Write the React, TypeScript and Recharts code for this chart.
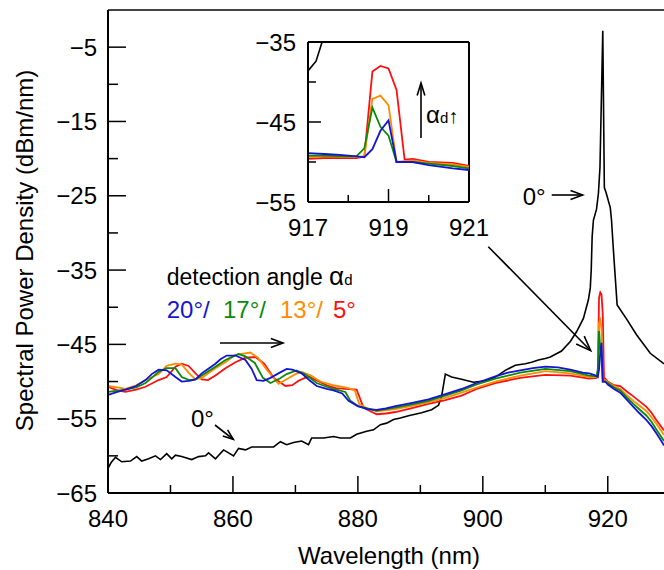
import React from 'react';
import { LineChart, Line, XAxis, YAxis, ReferenceLine } from 'recharts';

const FONT = "'Liberation Sans', Arial, sans-serif";

// ---------- main chart data (wavelength nm, dBm/nm) ----------
const xTicksMain = [840, 850, 860, 870, 880, 890, 900, 910, 920];
const yTicksMain = [-65, -60, -55, -50, -45, -40, -35, -30, -25, -20, -15, -10, -5];
const xTicksInset = [917, 918, 919, 920, 921];
const yTicksInset = [-55, -50, -45, -40, -35];

const black0: [number, number][] = [
  [840, -61.7], [840.5, -60.9], [841.2, -60.2], [842.2, -60.8], [843.6, -60.7], [844.6, -60.1], [845.4, -60.7],
  [846.5, -60.4], [847.6, -60.0], [848.4, -60.5], [849.4, -59.7], [850.2, -60.4], [850.8, -59.9], [851.8, -60.1],
  [853.4, -60.5], [854.5, -60.1], [855.6, -60.0], [856.1, -59.6], [857.2, -60.4], [858.5, -59.2], [859.3, -59.6],
  [860.1, -60.0], [860.9, -59.0], [862, -59.2], [863, -58.8], [864.9, -58.8], [866.5, -58.8], [867.6, -58.1],
  [868.6, -58.5], [869.7, -58.2], [871, -58.0], [872.1, -58.5], [872.6, -57.6], [874.5, -57.6], [876.1, -57.4],
  [877.2, -57.6], [878.8, -57.6], [879.8, -57.1], [881.4, -56.7], [882.5, -56.5], [883.6, -55.8], [884.6, -55.6],
  [885.7, -55.1], [886.8, -54.9], [888.1, -54.6], [890.2, -54.2], [891.8, -53.8], [892.9, -53.2], [893.4, -52.0],
  [894, -49.0], [895, -49.4], [896.6, -49.7], [898.5, -50.1], [900.4, -49.9], [902, -49.4], [903.6, -48.5],
  [905.2, -47.8], [906.8, -47.6], [907.8, -47.4], [908.9, -47.1], [910, -46.9], [910.8, -46.7], [912.6, -45.9],
  [914, -44.6], [915, -43.3], [916.1, -41.5], [916.9, -39.0], [917.2, -37.4], [917.35, -35.0], [917.5, -30.5],
  [917.7, -28.3], [918.2, -26.8], [918.5, -24.7], [918.75, -21.2], [919.2, -2.8], [919.45, -23.9], [919.7, -24.5],
  [920.4, -26.6], [920.6, -28.3], [920.9, -32.3], [921.5, -39.7], [923.1, -41.7], [924.6, -43.7], [926.8, -46.2],
  [928.8, -47.5], [929, -47.6],
];

const blue20: [number, number][] = [
  [840, -51.8], [841.5, -51.4], [842.8, -51.1], [844.5, -50.6], [846, -49.8], [847, -49.0], [848.1, -48.4],
  [849.4, -48.5], [850.8, -49.4], [851.8, -50.0], [853, -49.9], [854, -49.7], [855, -48.9], [856, -48.3],
  [857.2, -47.6], [858, -47.0], [859, -46.5], [860.4, -46.5], [862, -47.1], [863, -48.3], [863.8, -49.8],
  [864.9, -49.9], [866, -49.5], [867.5, -48.8], [868.6, -48.3], [869.5, -48.4], [871, -48.9], [872.2, -49.8],
  [873.4, -50.6], [875, -51.0], [876.1, -51.2], [877.5, -51.6], [878.5, -52.6], [880, -53.3], [881.5, -53.7],
  [883, -53.8], [884.5, -53.6], [886, -53.3], [888.5, -52.9], [891.3, -52.4], [894, -51.7], [896.6, -51.0],
  [899, -50.2], [902, -49.3], [904, -48.8], [906, -48.5], [908, -48.2], [910, -48.0], [912, -48.1], [914, -48.4],
  [916, -48.8], [917, -48.9], [917.8, -49.1], [918.2, -49.3], [918.4, -49.4], [918.6, -48.4], [918.8, -46.1],
  [919, -44.8], [919.2, -50.0], [919.6, -50.0], [920, -50.4], [921, -51.0], [922, -51.5], [923, -52.4],
  [924.1, -53.4], [925, -54.2], [926.2, -55.2], [927, -56.0], [927.8, -57.0], [928.5, -57.9], [929, -58.6],
];

const green17: [number, number][] = [
  [840, -51.4], [842.8, -51.1], [844.5, -50.8], [846, -50.2], [847, -49.5], [848.1, -48.7], [849.4, -48.2],
  [850.8, -48.2], [851.8, -49.4], [853, -49.8], [854, -49.7], [855, -49.2], [857.2, -48.0], [858.8, -47.1],
  [860.9, -46.3], [862, -46.6], [863.5, -47.5], [864.8, -49.5], [866, -50.2], [867.5, -49.6], [868.6, -49.0],
  [870.2, -48.5], [871.5, -49.0], [873.4, -50.2], [875, -50.7], [876.1, -51.0], [878, -51.4], [878.8, -52.6],
  [880, -53.3], [883, -53.9], [886, -53.5], [888.5, -53.1], [891.3, -52.6], [894, -51.9], [896.6, -51.2],
  [899, -50.4], [902, -49.6], [906, -48.8], [910, -48.3], [914, -48.6], [917, -49.2], [918.2, -49.3],
  [918.4, -48.3], [918.6, -43.2], [918.8, -45.6], [919, -46.7], [919.2, -50.0], [919.6, -50.0], [920, -50.2],
  [921, -50.8], [922, -51.2], [923, -52.1], [924.1, -53.0], [925, -53.7], [926.2, -54.6], [927, -55.4],
  [927.8, -56.5], [929, -58.0],
];

const orange13: [number, number][] = [
  [840, -50.6], [841.5, -50.8], [842.8, -51.0], [844.5, -50.5], [846, -49.8], [848.1, -49.0], [849.4, -47.9],
  [850.8, -47.6], [851.8, -47.7], [853, -48.9], [854, -49.7], [855, -49.5], [857.2, -48.2], [858.8, -47.4],
  [860.4, -46.4], [862.8, -46.1], [864, -46.8], [865.5, -48.5], [867.3, -50.3], [868.6, -49.7], [870, -49.0],
  [871, -48.7], [872.5, -49.2], [874, -50.0], [876.1, -50.5], [878.5, -50.9], [879.5, -51.2], [880.2, -53.0],
  [881.5, -53.6], [883, -54.0], [886, -53.7], [888.5, -53.3], [891.3, -52.8], [894, -52.2], [896.6, -51.5],
  [899, -50.8], [902, -50.0], [906, -49.2], [910, -48.6], [914, -48.9], [917, -49.4], [918.2, -49.4],
  [918.4, -49.3], [918.6, -42.1], [918.8, -41.7], [919, -42.9], [919.2, -50.0], [919.6, -49.8], [920, -50.1],
  [921, -50.6], [922, -51.0], [923, -51.8], [924.1, -52.6], [925, -53.2], [926.2, -54.0], [927, -54.8],
  [927.8, -55.7], [929, -57.2],
];

const red5: [number, number][] = [
  [840, -50.7], [841.5, -51.2], [842.8, -51.4], [844.5, -51.1], [846, -50.7], [848.1, -49.8], [849.4, -49.4],
  [850.8, -48.0], [851.8, -47.6], [852.9, -47.9], [854, -48.9], [855, -49.7], [856, -49.8], [857.2, -49.2],
  [858.8, -48.2], [860.4, -47.4], [862, -46.8], [863.6, -46.7], [865, -47.6], [866.5, -49.5], [868.4, -50.6],
  [869.5, -50.5], [870.5, -49.9], [872.1, -49.3], [873.5, -49.9], [875, -50.5], [876.5, -50.9], [878, -51.0],
  [879.8, -51.1], [880.9, -53.5], [882, -54.0], [883, -54.4], [884.5, -54.3], [886, -54.1], [888.5, -53.6],
  [891.3, -53.0], [894, -52.5], [896.6, -51.9], [899, -51.0], [902, -50.2], [906, -49.5], [910, -49.1],
  [914, -49.2], [917, -49.6], [918.2, -49.5], [918.4, -49.3], [918.6, -38.7], [918.8, -38.0], [919, -38.3],
  [919.2, -41.0], [919.4, -49.7], [919.6, -49.6], [920, -50.0], [921, -50.5], [922, -50.6], [923, -51.3],
  [924.1, -52.0], [925, -52.6], [926.2, -53.4], [927, -54.2], [927.8, -55.2], [929, -56.6],
];

// ---------- inset data (917–921 nm) ----------
const insetBlack: [number, number][] = [[916.9, -39.0], [917, -38.6], [917.2, -37.4], [917.35, -35.0], [917.5, -30.5]];
const insetBlue: [number, number][] = [
  [917, -48.9], [917.4, -49.0], [917.8, -49.1], [918.2, -49.3], [918.4, -49.4], [918.6, -48.4], [918.8, -46.1],
  [919, -44.8], [919.2, -50.0], [919.6, -50.0], [920, -50.4], [920.6, -50.8], [921, -51.0],
];
const insetGreen: [number, number][] = [
  [917, -49.2], [917.4, -49.2], [918, -49.3], [918.2, -49.3], [918.4, -48.3], [918.6, -43.2], [918.8, -45.6],
  [919, -46.7], [919.2, -50.0], [919.6, -50.0], [920, -50.2], [920.6, -50.5], [921, -50.8],
];
const insetOrange: [number, number][] = [
  [917, -49.4], [917.4, -49.3], [918.2, -49.4], [918.4, -49.3], [918.6, -42.1], [918.8, -41.7], [919, -42.9],
  [919.2, -50.0], [919.6, -49.8], [920, -50.1], [920.6, -50.3], [921, -50.6],
];
const insetRed: [number, number][] = [
  [917, -49.6], [917.4, -49.5], [918.2, -49.5], [918.4, -49.3], [918.6, -38.7], [918.8, -38.0], [919, -38.3],
  [919.2, -41.0], [919.4, -49.7], [919.6, -49.6], [920, -50.0], [920.6, -50.1], [921, -50.5],
];

const legendLabels = ['20°/', '17°/', '13°/', '5°'];

const C_BLUE = '#1414d2';
const C_GREEN = '#0a8a0a';
const C_ORANGE = '#ff8c00';
const C_RED = '#ff1010';

const pts = (a: [number, number][]) => a.map(([x, y]) => ({ x, y }));
const fmt = (v: number) => (v < 0 ? '\u2212' + Math.abs(v) : String(v));

const mkXTick = (isMajor: (v: number) => boolean, majorLen: number, minorLen: number, labelDy: number) =>
  (p: any) => {
    const v = p.payload.value;
    const major = isMajor(v);
    return (
      <g>
        <line x1={p.x} x2={p.x} y1={p.y} y2={p.y - (major ? majorLen : minorLen)} stroke="#000" strokeWidth={1.5} />
        {major && (
          <text x={p.x} y={p.y + labelDy} textAnchor="middle" fontSize={24} fontFamily={FONT} fill="#000">
            {fmt(v)}
          </text>
        )}
      </g>
    );
  };

const mkYTick = (isMajor: (v: number) => boolean, majorLen: number, minorLen: number, gap: number) =>
  (p: any) => {
    const v = p.payload.value;
    const major = isMajor(v);
    return (
      <g>
        <line x1={p.x} x2={p.x + (major ? majorLen : minorLen)} y1={p.y} y2={p.y} stroke="#000" strokeWidth={1.5} />
        {major && (
          <text x={p.x - gap} y={p.y + 8.5} textAnchor="end" fontSize={24} fontFamily={FONT} fill="#000">
            {fmt(v)}
          </text>
        )}
      </g>
    );
  };

const MainXTick = mkXTick((v) => v % 20 === 0, 17, 8, 34);
const MainYTick = mkYTick((v) => (v + 5) % 10 === 0, 18, 10, 11);
const InsetXTick = mkXTick((v) => v === 917 || v === 919 || v === 921, 13, 7, 34);
const InsetYTick = mkYTick((v) => (v + 5) % 10 === 0, 13, 8, 12);

function Arrow({ x1, y1, x2, y2, head = 13, spread = 0.36 }: any) {
  const a = Math.atan2(y2 - y1, x2 - x1);
  const p1 = [x2 - head * Math.cos(a - spread), y2 - head * Math.sin(a - spread)];
  const p2 = [x2 - head * Math.cos(a + spread), y2 - head * Math.sin(a + spread)];
  return (
    <g stroke="#000" strokeWidth={1.6} fill="none">
      <line x1={x1} y1={y1} x2={x2} y2={y2} />
      <polyline points={`${p1[0]},${p1[1]} ${x2},${y2} ${p2[0]},${p2[1]}`} />
    </g>
  );
}

export default function App() {
  const lineProps = { type: 'linear' as const, dataKey: 'y', dot: false, isAnimationActive: false, strokeWidth: 1.8 };
  return (
    <div style={{ position: 'absolute', left: 0, top: 0, width: 664, height: 570, background: '#fff', overflow: 'hidden' }}>
      <div style={{ position: 'absolute', left: 0, top: 0 }}>
        <LineChart width={664} height={570} margin={{ top: 10, right: 0, bottom: 0, left: 0 }}>
          <XAxis
            type="number" dataKey="x" domain={[840, 929]} ticks={xTicksMain} interval={0} allowDataOverflow
            height={77} tickLine={false} tickSize={0} tickMargin={0} tick={MainXTick}
            axisLine={{ stroke: '#000', strokeWidth: 2 }}
          />
          <YAxis
            type="number" domain={[-65, 0]} ticks={yTicksMain} interval={0} allowDataOverflow
            width={108} tickLine={false} tickSize={0} tickMargin={0} tick={MainYTick}
            axisLine={{ stroke: '#000', strokeWidth: 2 }}
          />
          <ReferenceLine y={0} stroke="#444" strokeWidth={2} />
          <Line {...lineProps} data={pts(black0)} stroke="#000" strokeWidth={1.6} />
          <Line {...lineProps} data={pts(red5)} stroke={C_RED} />
          <Line {...lineProps} data={pts(orange13)} stroke={C_ORANGE} />
          <Line {...lineProps} data={pts(green17)} stroke={C_GREEN} />
          <Line {...lineProps} data={pts(blue20)} stroke={C_BLUE} />
        </LineChart>
      </div>

      <div style={{ position: 'absolute', left: 240, top: 30 }}>
        <LineChart width={270} height={210} margin={{ top: 12, right: 41, bottom: 0, left: 0 }}>
          <XAxis
            type="number" dataKey="x" domain={[917, 921]} ticks={xTicksInset} interval={0} allowDataOverflow
            height={38} tickLine={false} tickSize={0} tickMargin={0} tick={InsetXTick}
            axisLine={{ stroke: '#000', strokeWidth: 2 }}
          />
          <YAxis
            type="number" domain={[-55, -35]} ticks={yTicksInset} interval={0} allowDataOverflow
            width={68} tickLine={false} tickSize={0} tickMargin={0} tick={InsetYTick}
            axisLine={{ stroke: '#000', strokeWidth: 2 }}
          />
          <ReferenceLine y={-35} stroke="#000" strokeWidth={2} />
          <ReferenceLine x={921} stroke="#000" strokeWidth={2} />
          <Line {...lineProps} data={pts(insetBlack)} stroke="#000" strokeWidth={1.6} />
          <Line {...lineProps} data={pts(insetRed)} stroke={C_RED} />
          <Line {...lineProps} data={pts(insetOrange)} stroke={C_ORANGE} />
          <Line {...lineProps} data={pts(insetGreen)} stroke={C_GREEN} />
          <Line {...lineProps} data={pts(insetBlue)} stroke={C_BLUE} />
        </LineChart>
      </div>

      <svg width={664} height={570} style={{ position: 'absolute', left: 0, top: 0, pointerEvents: 'none' }} fontFamily={FONT}>
        <text x={389} y={564} textAnchor="middle" fontSize={24} fill="#000">Wavelength (nm)</text>
        <text x={33} y={250.5} transform="rotate(-90 33 250.5)" textAnchor="middle" fontSize={24} fill="#000">
          Spectral Power Density (dBm/nm)
        </text>

        <text x={166.7} y={285} fontSize={23} fill="#000">
          detection angle <tspan fontSize={26}>α</tspan><tspan fontSize={15}>d</tspan>
        </text>

        <text x={166.7} y={318} fontSize={24} fill={C_BLUE}>{legendLabels[0]}</text>
        <text x={223} y={318} fontSize={24} fill={C_GREEN}>{legendLabels[1]}</text>
        <text x={280} y={318} fontSize={24} fill={C_ORANGE}>{legendLabels[2]}</text>
        <text x={333} y={318} fontSize={24} fill={C_RED}>{legendLabels[3]}</text>
        <Arrow x1={220} y1={343} x2={283} y2={343} />

        <text x={191} y={427} fontSize={24} fill="#000">0°</text>
        <Arrow x1={215} y1={425} x2={233.3} y2={439.3} head={11} />

        <text x={522.7} y={205} fontSize={24} fill="#000">0°</text>
        <Arrow x1={551.7} y1={195} x2={582.7} y2={195} />

        <Arrow x1={488.3} y1={246.7} x2={590.7} y2={350.7} head={16} />

        <Arrow x1={421} y1={138} x2={421} y2={83} head={13} spread={0.3} />
        <text x={426} y={123} fontSize={24} fill="#000">
          α<tspan fontSize={15}>d</tspan><tspan fontSize={20}>↑</tspan>
        </text>
      </svg>
    </div>
  );
}
